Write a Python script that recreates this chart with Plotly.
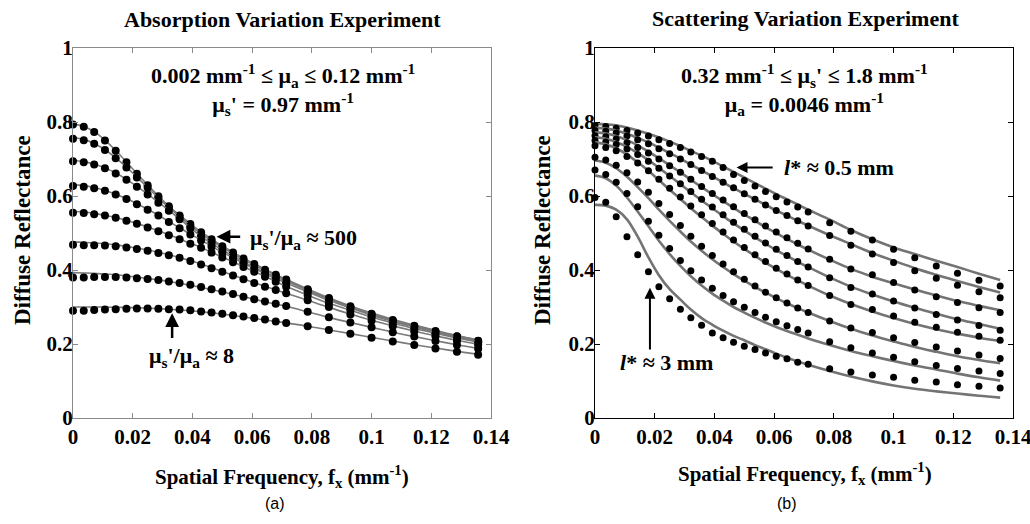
import plotly.graph_objects as go

# spatial frequencies (mm^-1)
fx = [0, 0.0036, 0.0071, 0.0107, 0.0143, 0.0179, 0.0214, 0.025, 0.0286, 0.0321,
      0.0357, 0.0393, 0.0429, 0.0464, 0.05, 0.0536, 0.0571, 0.0607, 0.0643, 0.0679,
      0.0714, 0.0786, 0.0857, 0.0929, 0.1, 0.1071, 0.1143, 0.1214, 0.1286, 0.1357]

# (a) absorption variation: measured reflectance
abs_meas = [
    [.793, .787, .773, .750, .722, .691, .660, .629, .599, .572, .547, .524, .502, .483, .464, .447, .431, .416, .401, .387, .374, .348, .324, .302, .282, .265, .249, .235, .221, .209],
    [.755, .751, .741, .724, .702, .677, .650, .622, .594, .568, .543, .519, .497, .478, .460, .443, .427, .412, .398, .385, .372, .346, .322, .300, .280, .263, .247, .233, .220, .208],
    [.694, .691, .685, .675, .661, .644, .625, .604, .582, .560, .537, .513, .490, .471, .453, .437, .421, .406, .393, .380, .369, .344, .320, .298, .278, .261, .246, .232, .219, .206],
    [.627, .625, .621, .614, .604, .592, .578, .563, .547, .530, .513, .496, .480, .463, .447, .432, .417, .403, .389, .376, .364, .340, .317, .296, .276, .259, .244, .230, .217, .205],
    [.555, .554, .551, .547, .541, .533, .525, .515, .505, .494, .483, .471, .460, .447, .434, .421, .408, .395, .382, .368, .355, .331, .309, .290, .272, .255, .240, .227, .214, .203],
    [.468, .467, .467, .466, .464, .461, .457, .452, .446, .440, .433, .424, .415, .405, .395, .385, .375, .365, .355, .346, .337, .318, .300, .280, .263, .248, .234, .221, .209, .198],
    [.380, .380, .381, .381, .381, .380, .378, .376, .373, .369, .365, .360, .354, .348, .342, .335, .328, .321, .315, .309, .303, .287, .272, .258, .245, .232, .220, .208, .197, .187],
    [.290, .290, .292, .293, .294, .295, .296, .296, .295, .294, .293, .291, .288, .285, .282, .278, .274, .270, .266, .261, .257, .248, .238, .228, .217, .207, .197, .188, .179, .171],
]
# (a) diffusion model fits
abs_model = [
    [.795, .788, .774, .751, .723, .692, .661, .630, .600, .573, .548, .525, .503, .484, .465, .448, .432, .417, .402, .388, .375, .349, .325, .303, .284, .267, .251, .237, .223, .211],
    [.758, .753, .742, .725, .703, .678, .651, .623, .595, .569, .544, .520, .498, .479, .461, .444, .428, .413, .399, .386, .373, .347, .323, .301, .282, .265, .249, .235, .222, .210],
    [.696, .693, .686, .676, .662, .645, .626, .605, .583, .561, .538, .514, .491, .472, .454, .438, .422, .407, .394, .381, .370, .345, .321, .299, .280, .263, .248, .234, .221, .208],
    [.630, .628, .623, .615, .605, .593, .579, .564, .548, .531, .514, .497, .481, .464, .448, .433, .418, .404, .390, .377, .365, .341, .318, .297, .278, .261, .246, .232, .219, .207],
    [.558, .557, .553, .548, .542, .534, .526, .516, .506, .495, .484, .472, .461, .448, .435, .422, .409, .396, .383, .369, .356, .332, .310, .291, .273, .257, .242, .229, .216, .205],
    [.476, .475, .473, .471, .468, .464, .459, .454, .448, .441, .434, .425, .416, .406, .396, .386, .376, .366, .356, .346, .337, .318, .299, .281, .264, .249, .235, .222, .210, .199],
    [.393, .392, .391, .389, .387, .384, .381, .377, .373, .369, .364, .359, .353, .347, .341, .334, .328, .321, .314, .308, .302, .287, .272, .258, .245, .232, .220, .209, .198, .188],
    [.300, .300, .300, .300, .299, .299, .298, .297, .296, .294, .292, .290, .287, .284, .281, .277, .273, .269, .265, .261, .257, .248, .238, .228, .218, .208, .198, .189, .180, .172],
]

# (b) scattering variation: measured reflectance
sca_meas = [
    [.790, .788, .783, .777, .770, .762, .752, .742, .731, .719, .707, .694, .677, .658, .642, .627, .612, .598, .584, .570, .557, .528, .505, .481, .456, .433, .411, .391, .372, .357],
    [.777, .775, .770, .762, .752, .741, .728, .714, .700, .685, .669, .653, .637, .622, .606, .591, .576, .561, .547, .533, .519, .493, .467, .443, .420, .398, .378, .359, .341, .325],
    [.763, .760, .754, .744, .731, .716, .700, .682, .664, .645, .626, .607, .589, .571, .553, .536, .519, .503, .487, .472, .457, .429, .403, .387, .366, .346, .328, .312, .298, .285],
    [.750, .746, .739, .727, .712, .694, .675, .654, .633, .612, .591, .570, .549, .529, .510, .491, .473, .456, .439, .423, .408, .379, .353, .335, .316, .297, .280, .265, .250, .237],
    [.736, .731, .722, .707, .689, .668, .645, .621, .597, .573, .549, .526, .503, .481, .461, .441, .423, .405, .389, .373, .358, .331, .307, .293, .276, .259, .245, .232, .221, .210],
    [.705, .697, .683, .663, .638, .610, .580, .550, .520, .491, .464, .439, .416, .395, .375, .357, .340, .325, .311, .297, .285, .262, .243, .231, .217, .204, .192, .181, .170, .161],
    [.670, .658, .637, .607, .571, .532, .494, .458, .426, .398, .373, .351, .331, .314, .299, .285, .272, .260, .249, .239, .230, .206, .190, .176, .164, .152, .142, .134, .127, .120],
    [.596, .583, .544, .490, .441, .395, .355, .322, .294, .271, .251, .230, .217, .205, .194, .185, .176, .167, .160, .151, .145, .133, .124, .116, .110, .102, .097, .090, .086, .081],
]
# (b) diffusion model fits
sca_model = [
    [.795, .794, .791, .785, .777, .768, .758, .747, .735, .722, .709, .695, .680, .665, .650, .635, .620, .605, .591, .577, .563, .536, .508, .483, .461, .443, .425, .408, .390, .373],
    [.784, .782, .777, .768, .757, .745, .731, .716, .701, .685, .669, .653, .637, .621, .606, .591, .576, .561, .547, .533, .520, .494, .470, .446, .425, .405, .387, .370, .354, .339],
    [.772, .769, .762, .751, .737, .720, .702, .683, .664, .644, .624, .605, .586, .568, .550, .533, .516, .500, .484, .469, .455, .428, .403, .382, .364, .347, .331, .316, .303, .291],
    [.759, .755, .746, .733, .716, .697, .676, .654, .632, .610, .588, .567, .546, .526, .507, .488, .471, .454, .438, .422, .408, .380, .355, .334, .315, .298, .282, .267, .254, .241],
    [.745, .740, .729, .712, .691, .668, .643, .617, .592, .567, .543, .520, .498, .477, .457, .438, .420, .403, .387, .372, .358, .331, .308, .288, .270, .254, .240, .228, .217, .208],
    [.696, .690, .675, .652, .624, .594, .563, .533, .504, .477, .452, .429, .408, .389, .371, .354, .339, .324, .310, .297, .285, .262, .241, .223, .207, .192, .179, .167, .157, .148],
    [.655, .648, .628, .596, .558, .518, .479, .443, .411, .383, .358, .336, .317, .300, .285, .271, .258, .246, .235, .225, .215, .197, .181, .167, .154, .142, .131, .120, .110, .101],
    [.576, .574, .563, .537, .490, .434, .386, .348, .320, .293, .270, .252, .236, .222, .210, .197, .186, .174, .163, .153, .144, .127, .112, .099, .088, .079, .072, .066, .060, .055],
]

x_ticks = [0, 0.02, 0.04, 0.06, 0.08, 0.1, 0.12, 0.14]
x_ticktext = ["0", "0.02", "0.04", "0.06", "0.08", "0.1", "0.12", "0.14"]
y_ticks = [0, 0.2, 0.4, 0.6, 0.8, 1]
y_ticktext = ["0", "0.2", "0.4", "0.6", "0.8", "1"]

W, H = 1030, 524
SERIF = "Liberation Serif, Times New Roman, serif"


def px(x):
    return x / W


def py(y):
    return 1 - y / H


fig = go.Figure()

for meas, model in zip(abs_meas, abs_model):
    fig.add_trace(go.Scatter(x=fx, y=model, mode="lines", line=dict(color="#7a7a7a", width=1.6, shape="spline"),
                             xaxis="x", yaxis="y", showlegend=False, hoverinfo="skip"))
    fig.add_trace(go.Scatter(x=fx, y=meas, mode="markers", marker=dict(color="black", size=8),
                             xaxis="x", yaxis="y", showlegend=False, cliponaxis=False))

for meas, model in zip(sca_meas, sca_model):
    fig.add_trace(go.Scatter(x=fx, y=model, mode="lines", line=dict(color="#747474", width=2.6, shape="spline"),
                             xaxis="x2", yaxis="y2", showlegend=False, hoverinfo="skip"))
    fig.add_trace(go.Scatter(x=fx, y=meas, mode="markers", marker=dict(color="black", size=7),
                             xaxis="x2", yaxis="y2", showlegend=False, cliponaxis=False))

tickfont = dict(family=SERIF, size=21, color="black", weight="bold")


def xax(domain, color, anchor):
    return dict(domain=domain, range=[0, 0.14], tickvals=x_ticks, ticktext=x_ticktext, ticks="inside",
                ticklen=5, tickcolor=color, showline=True, linecolor=color, linewidth=1.2, mirror="ticks",
                showgrid=False, zeroline=False, tickfont=tickfont, anchor=anchor,
                ticklabeloverflow="allow")


def yax(color, anchor):
    return dict(domain=[py(418), py(48)], range=[0, 1], tickvals=y_ticks, ticktext=y_ticktext, ticks="inside",
                ticklen=5, tickcolor=color, showline=True, linecolor=color, linewidth=1.2, mirror="ticks",
                showgrid=False, zeroline=False, tickfont=tickfont, anchor=anchor, ticklabelstandoff=-5,
                ticklabeloverflow="allow")


fig.update_layout(
    width=W, height=H,
    margin=dict(l=0, r=0, t=0, b=0, autoexpand=False),
    paper_bgcolor="white", plot_bgcolor="white",
    xaxis=xax([px(73), px(491)], "#8a8a8a", "y"),
    yaxis=yax("#8a8a8a", "x"),
    xaxis2=xax([px(595), px(1013)], "black", "y2"),
    yaxis2=yax("black", "x2"),
)

bold = dict(family=SERIF, size=22, color="black", weight="bold")
title_font = dict(family=SERIF, size=22, color="black", weight="bold")
axis_font = dict(family=SERIF, size=21, color="black", weight="bold")
notes = [
    # panel titles
    dict(text="Absorption Variation Experiment", x=px(282), y=py(20), font=title_font),
    dict(text="Scattering Variation Experiment", x=px(805), y=py(18), font=title_font),
    # x axis titles
    dict(text="Spatial Frequency, f<sub>x</sub> (mm<sup>-1</sup>)", x=px(282), y=py(476), font=axis_font),
    dict(text="Spatial Frequency, f<sub>x</sub> (mm<sup>-1</sup>)", x=px(805), y=py(473), font=axis_font),
    # y axis titles
    dict(text="Diffuse Reflectance", x=px(22), y=py(230), textangle=-90,
         font=dict(family=SERIF, size=23, color="black", weight="bold")),
    dict(text="Diffuse Reflectance", x=px(542), y=py(230), textangle=-90,
         font=dict(family=SERIF, size=23, color="black", weight="bold")),
    # panel labels
    dict(text="(a)", x=px(275), y=py(503), font=dict(family="Liberation Sans, Arial, sans-serif", size=16, color="black")),
    dict(text="(b)", x=px(787), y=py(503), font=dict(family="Liberation Sans, Arial, sans-serif", size=16, color="black")),
]
for n in notes:
    fig.add_annotation(xref="paper", yref="paper", showarrow=False, xanchor="center", yanchor="middle", **n)

# in-plot texts, panel (a)
fig.add_annotation(xref="x", yref="y", x=0.0704, y=0.888, showarrow=False, font=bold, align="center",
                   text="0.002 mm<sup>-1</sup> ≤ μ<sub>a</sub> ≤ 0.12 mm<sup>-1</sup><br>"
                        "μ<sub>s</sub>' = 0.97 mm<sup>-1</sup>")
fig.add_annotation(xref="x", yref="y", x=0.0587, y=0.485, xanchor="left", showarrow=False, font=bold,
                   text="μ<sub>s</sub>'/μ<sub>a</sub> ≈ 500")
fig.add_annotation(xref="x", yref="y", x=0.0397, y=0.164, showarrow=False, font=bold,
                   text="μ<sub>s</sub>'/μ<sub>a</sub> ≈ 8")
fig.add_annotation(xref="x", yref="y", x=0.0481, y=0.49, ax=0.0565, ay=0.49, axref="x", ayref="y",
                   text="", showarrow=True, arrowhead=2, arrowsize=1.1, arrowwidth=2.5, arrowcolor="black")
fig.add_annotation(xref="x", yref="y", x=0.0332, y=0.283, ax=0.0332, ay=0.212, axref="x", ayref="y",
                   text="", showarrow=True, arrowhead=2, arrowsize=1.1, arrowwidth=2.5, arrowcolor="black")

# in-plot texts, panel (b)
fig.add_annotation(xref="x2", yref="y2", x=0.0700, y=0.888, showarrow=False, font=bold, align="center",
                   text="0.32 mm<sup>-1</sup> ≤ μ<sub>s</sub>' ≤ 1.8 mm<sup>-1</sup><br>"
                        "μ<sub>a</sub> = 0.0046 mm<sup>-1</sup>")
fig.add_annotation(xref="x2", yref="y2", x=0.0625, y=0.677, xanchor="left", showarrow=False, font=bold,
                   text="<i>l</i>* ≈ 0.5 mm")
fig.add_annotation(xref="x2", yref="y2", x=0.0076, y=0.149, xanchor="left", showarrow=False, font=bold,
                   text="<i>l</i>* ≈ 3 mm")
fig.add_annotation(xref="x2", yref="y2", x=0.0474, y=0.677, ax=0.0600, ay=0.677, axref="x2", ayref="y2",
                   text="", showarrow=True, arrowhead=2, arrowsize=1.1, arrowwidth=2, arrowcolor="black")
fig.add_annotation(xref="x2", yref="y2", x=0.0184, y=0.352, ax=0.0184, ay=0.181, axref="x2", ayref="y2",
                   text="", showarrow=True, arrowhead=2, arrowsize=1.1, arrowwidth=2, arrowcolor="black")

# the page body has a default 8px margin; remove it so the figure sits at the window origin
fig.write_html("out.html", config={"displayModeBar": False},
               post_script="document.body.style.margin='0';")
